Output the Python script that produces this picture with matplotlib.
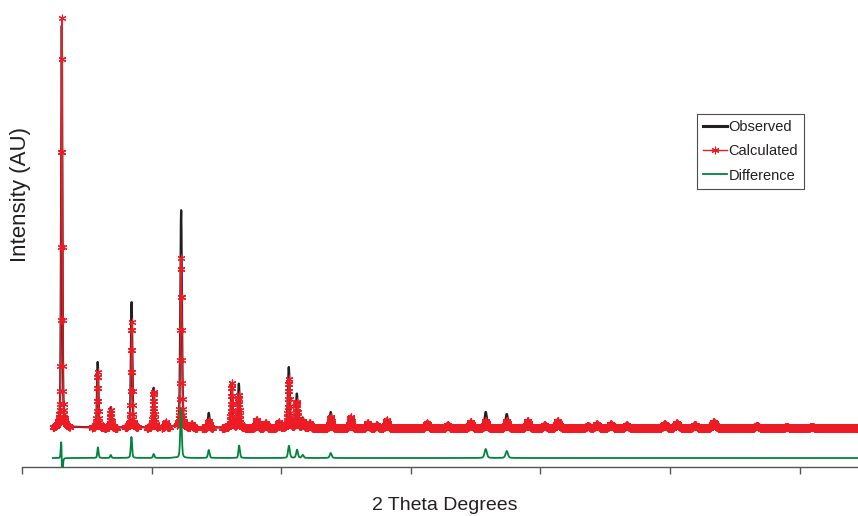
import numpy as np
import matplotlib
matplotlib.use('Agg')
import matplotlib.pyplot as plt

plt.rcParams['font.family'] = ['Liberation Sans', 'DejaVu Sans']

# ---- data -----------------------------------------------------------------
# reflection positions (2-theta, degrees)
peak_pos = [3.07, 5.84, 6.85, 8.46, 10.16, 11.09, 12.28, 13.09, 14.41, 15.25,
            16.18, 16.72, 18.11, 18.80, 19.81, 20.58, 21.20, 21.66, 22.20, 23.82,
            25.36, 26.67, 27.37, 28.14, 31.23, 32.85, 34.62, 35.78, 37.40, 39.02,
            40.33, 41.34, 43.65, 44.35, 45.43, 46.66, 49.59, 50.52, 51.91, 53.37,
            56.69, 59.00, 60.93]
# calculated peak heights above background (counts)
calc_height = [10250, 1400, 450, 2650, 900, 150, 4250, 100, 175, 50,
               1125, 825, 200, 125, 150, 1225, 650, 175, 125, 275,
               275, 125, 75, 200, 125, 75, 150, 175, 175, 175,
               75, 175, 50, 100, 100, 75, 100, 125, 75, 150,
               50, 25, 25]
# observed peak heights above background (counts)
obs_height = [10100, 1650, 525, 3150, 1000, 150, 5450, 100, 375, 50,
              1125, 1100, 200, 125, 150, 1525, 850, 250, 125, 400,
              275, 125, 75, 200, 125, 75, 150, 400, 350, 175,
              75, 175, 50, 100, 100, 75, 100, 125, 75, 150,
              50, 25, 25]
# small shift of observed reflections against the calculated ones (degrees)
obs_shift = [-0.004, 0.003, 0.0, -0.003, 0.0, 0.0, -0.003, 0.0, 0.0, 0.0,
             0.0, 0.01, 0.0, 0.0, 0.0, 0.003, 0.005, 0.0, 0.0, 0.0,
             0.0, 0.0, 0.0, 0.0, 0.0, 0.0, 0.0, 0.0, 0.0, 0.0,
             0.0, 0.0, 0.0, 0.0, 0.0, 0.0, 0.0, 0.0, 0.0, 0.0,
             0.0, 0.0, 0.0]
# measured 2-theta ranges
segments = [(2.37, 3.68), (5.38, 7.38), (7.92, 8.93), (9.62, 10.47),
            (10.78, 11.40), (11.94, 13.48), (13.87, 14.71), (15.41, 64.6)]
step = 0.02
background = 975
diff_offset = 225
x_ticks = [0, 10, 20, 30, 40, 50, 60]
x_range = (0, 64.5)
y_range = (0, 11675)
legend_labels = ['Observed', 'Calculated', 'Difference']

# ---- build patterns --------------------------------------------------------
tt = np.concatenate([np.round(np.arange(a, b, step), 3) for a, b in segments])


def pv(x, pos, h, w, eta=0.4):
    d = (x - pos) / w
    return h * ((1 - eta) * np.exp(-4 * np.log(2) * d ** 2) + eta / (1 + 4 * d ** 2))


calc = np.full_like(tt, background, dtype=float)
obs = np.full_like(tt, background, dtype=float)
for p, hc, ho, s in zip(peak_pos, calc_height, obs_height, obs_shift):
    w = 0.10 + 0.003 * p
    calc += pv(tt, p, hc, w)
    obs += pv(tt, p + s, ho, w)
diff = obs - calc + diff_offset

# ---- figure ----------------------------------------------------------------
fig = plt.figure(figsize=(8.58, 5.16), dpi=100)
ax = fig.add_axes([22 / 858, 49 / 516, 836 / 858, 467 / 516])

dark = '#231f20'
ax.plot(tt, obs, color=dark, lw=1.6, label=legend_labels[0], zorder=2)
ax.plot(tt, calc, color='#ed1c24', lw=1.0, marker=(6, 2, 0), markersize=5.5,
        markeredgewidth=0.8, label=legend_labels[1], zorder=3)
ax.plot(tt, diff, color='#00843d', lw=1.3, label=legend_labels[2], zorder=3)

ax.set_xlim(*x_range)
ax.set_ylim(*y_range)
ax.set_xticks(x_ticks)
ax.set_xticklabels([])
ax.set_yticks([])
for side in ['left', 'right', 'top']:
    ax.spines[side].set_visible(False)
ax.spines['bottom'].set_color('#555555')
ax.spines['bottom'].set_linewidth(1.0)
ax.tick_params(axis='x', direction='out', length=5, width=1, color='#555555')
ax.patch.set_alpha(0)

fig.text(445 / 858, 1 - 505 / 516, '2 Theta Degrees', ha='center', va='center',
         fontsize=14, color=dark)
fig.text(21 / 858, 1 - 194 / 516, 'Intensity (AU)', ha='center', va='center',
         rotation=90, fontsize=16, color=dark)

leg = ax.legend(loc='upper left', bbox_to_anchor=(697 / 858, 1 - 114 / 516),
                bbox_transform=fig.transFigure, borderaxespad=0, frameon=True,
                fancybox=False, edgecolor=dark, fontsize=10.5, handlelength=1.65,
                handletextpad=0.1, borderpad=0.42, labelspacing=0.7,
                numpoints=1)
leg.get_frame().set_linewidth(0.8)
for t in leg.get_texts():
    t.set_color(dark)
leg.get_lines()[0].set_linewidth(2.2)

fig.savefig('out.png', dpi=100)
